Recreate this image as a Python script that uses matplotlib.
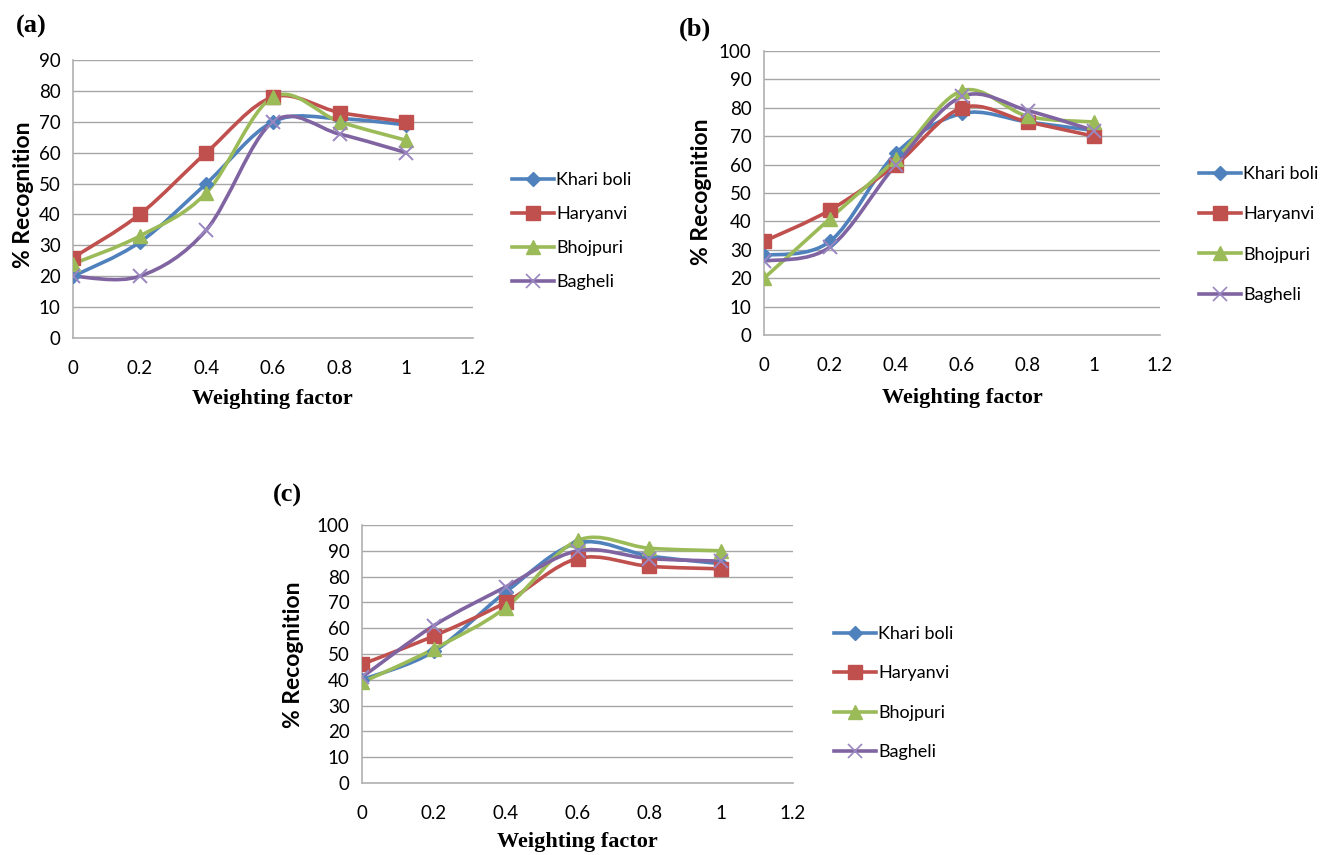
import matplotlib
matplotlib.use("Agg")
import matplotlib.pyplot as plt
from matplotlib.path import Path
from matplotlib.patches import PathPatch
from matplotlib.lines import Line2D

# ---------------- data ----------------
weights = [0, 0.2, 0.4, 0.6, 0.8, 1.0]
series_names = ["Khari boli", "Haryanvi", "Bhojpuri", "Bagheli"]

a_khari = [20, 31, 50, 70, 71, 69]
a_haryanvi = [26, 40, 60, 78, 73, 70]
a_bhojpuri = [24, 33, 47, 78, 70, 64]
a_bagheli = [20, 20, 35, 70, 66, 60]

b_khari = [28, 33, 64, 78, 75, 72]
b_haryanvi = [33, 44, 60, 80, 75, 70]
b_bhojpuri = [20, 41, 62, 86, 77, 75]
b_bagheli = [26, 31, 60, 84, 79, 72]

c_khari = [40, 51, 74, 93, 88, 85]
c_haryanvi = [46, 57, 70, 87, 84, 83]
c_bhojpuri = [39, 52, 68, 94, 91, 90]
c_bagheli = [41, 61, 76, 90, 87, 86]

x_ticks = [0, 0.2, 0.4, 0.6, 0.8, 1.0, 1.2]
x_ticklabels = ["0", "0.2", "0.4", "0.6", "0.8", "1", "1.2"]

# ---------------- style ----------------
colors = ["#4F81BD", "#C0504D", "#9BBB59", "#8064A2"]
markers = ["D", "s", "^", "x"]
msizes = [7, 10, 10, 10]

W, H = 1320, 855
fig = plt.figure(figsize=(W / 100, H / 100), dpi=100)
fig.patch.set_facecolor("white")

TICK_FONT = ["Lato", "DejaVu Sans"]
SERIF = ["Liberation Serif", "DejaVu Serif"]


def px_axes(left, top, right, bottom):
    return fig.add_axes([left / W, 1 - bottom / H, (right - left) / W, (bottom - top) / H])


def smooth_path(xs, ys):
    n = len(xs)
    pts = list(zip(xs, ys))
    verts = [pts[0]]
    codes = [Path.MOVETO]
    for i in range(n - 1):
        p0 = pts[i - 1] if i > 0 else pts[i]
        p1 = pts[i]
        p2 = pts[i + 1]
        p3 = pts[i + 2] if i + 2 < n else pts[i + 1]
        c1 = (p1[0] + (p2[0] - p0[0]) / 6, p1[1] + (p2[1] - p0[1]) / 6)
        c2 = (p2[0] - (p3[0] - p1[0]) / 6, p2[1] - (p3[1] - p1[1]) / 6)
        verts += [c1, c2, p2]
        codes += [Path.CURVE4] * 3
    return Path(verts, codes)


def draw_panel(box, data, ymax, tag, tagpos, ylab_pos, xlab_pos, leg_pos, leg_spacing):
    ax = px_axes(*box)
    for k, ys in enumerate(data):
        patch = PathPatch(smooth_path(weights, ys), facecolor="none",
                          edgecolor=colors[k], lw=2.6, zorder=3 + k * 0.1,
                          capstyle="round", joinstyle="round")
        ax.add_patch(patch)
    for k, ys in enumerate(data):
        kw = dict(color=colors[k], marker=markers[k], ms=msizes[k], ls="none", zorder=5)
        if markers[k] == "x":
            kw.update(mew=1.4, color="#9A86C0")
        ax.plot(weights, ys, **kw)
    ax.set_xlim(0, 1.2)
    ax.set_ylim(0, ymax)
    ax.set_xticks(x_ticks)
    ax.set_xticklabels(x_ticklabels)
    ax.set_yticks(range(0, ymax + 1, 10))
    ax.yaxis.grid(True, color="#A6A6A6", lw=1.0)
    ax.set_axisbelow(True)
    for s in ["top", "right"]:
        ax.spines[s].set_visible(False)
    for s in ["left", "bottom"]:
        ax.spines[s].set_color("#B0B0B0")
        ax.spines[s].set_linewidth(1.2)
    ax.tick_params(length=0, labelsize=13.5)
    ax.tick_params(axis="x", pad=16)
    ax.tick_params(axis="y", pad=9)
    for lab in ax.get_xticklabels() + ax.get_yticklabels():
        lab.set_family(TICK_FONT)
    fig.text(tagpos[0] / W, 1 - tagpos[1] / H, tag, family=SERIF, fontweight="bold",
             fontsize=19, ha="center", va="center")
    fig.text(ylab_pos[0] / W, 1 - ylab_pos[1] / H, "% Recognition", family=TICK_FONT,
             fontweight="bold", fontsize=16.5, rotation=90, ha="center", va="center")
    fig.text(xlab_pos[0] / W, 1 - xlab_pos[1] / H, "Weighting factor", family=SERIF,
             fontweight="bold", fontsize=16, ha="center", va="center")
    handles = []
    for k in range(4):
        kw = dict(color=colors[k], lw=2.6, marker=markers[k], ms=msizes[k])
        if markers[k] == "x":
            kw.update(mew=1.2, markeredgecolor="#9A86C0")
        handles.append(Line2D([], [], **kw))
    fig.legend(handles, series_names, loc="upper left",
               bbox_to_anchor=(leg_pos[0] / W, 1 - leg_pos[1] / H),
               frameon=False, handlelength=2.3, handletextpad=0.15,
               labelspacing=leg_spacing, borderpad=0, borderaxespad=0,
               prop={"family": TICK_FONT, "size": 13})
    return ax


draw_panel((73, 60, 473, 338), [a_khari, a_haryanvi, a_bhojpuri, a_bagheli], 90,
           "(a)", (31, 26), (24, 195), (272, 399), (512, 172), 1.0)
draw_panel((764, 51, 1160, 335), [b_khari, b_haryanvi, b_bhojpuri, b_bagheli], 100,
           "(b)", (695, 29), (702, 192), (962, 398), (1199, 166), 1.35)
draw_panel((362, 525, 793, 783), [c_khari, c_haryanvi, c_bhojpuri, c_bagheli], 100,
           "(c)", (287, 495), (293, 655), (577, 842), (834, 626), 1.3)

fig.savefig("out.png", dpi=100, facecolor="white")
